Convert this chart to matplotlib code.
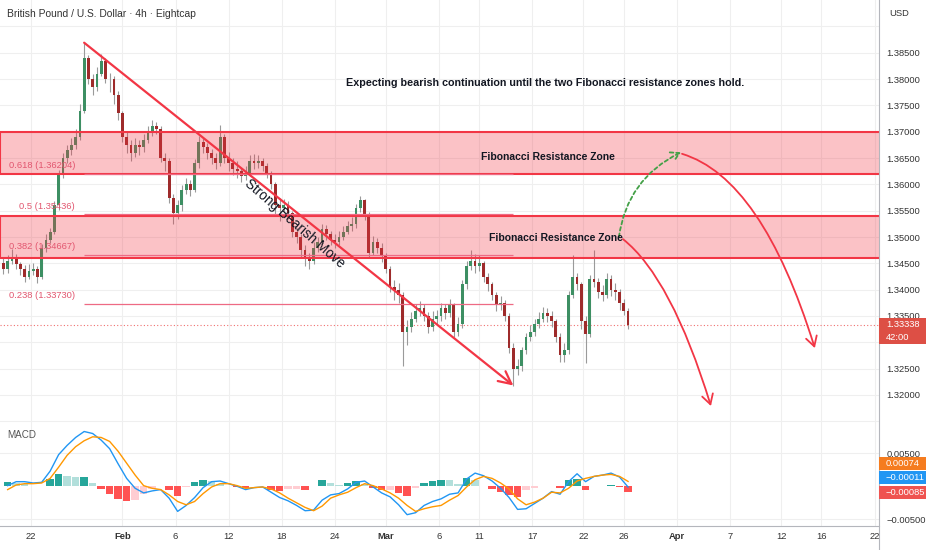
import matplotlib.pyplot as plt
import matplotlib.font_manager as fm
from matplotlib.patches import Rectangle, FancyArrowPatch
from matplotlib.path import Path
from matplotlib.lines import Line2D
import numpy as np
import pandas as pd

# pick a narrow font if there is one, the TradingView text is quite condensed
names = {f.name for f in fm.fontManager.ttflist}
main_font = 'Liberation Sans Narrow' if 'Liberation Sans Narrow' in names else 'Liberation Sans'
plt.rcParams['font.family'] = [main_font, 'DejaVu Sans']

# ---- data (8h candles, open = previous close) ----
open_first = 1.3450
close = [1.3440, 1.3455, 1.3462, 1.3448, 1.3440, 1.3425, 1.3435, 1.3440, 1.3425, 1.3480,
         1.3495, 1.3510, 1.3560, 1.3620, 1.3650, 1.3665, 1.3675, 1.3690, 1.3740, 1.3840,
         1.3800, 1.3785, 1.3810, 1.3835, 1.3800, 1.3800, 1.3770, 1.3735, 1.3690, 1.3675,
         1.3660, 1.3675, 1.3670, 1.3685, 1.3700, 1.3710, 1.3705, 1.3650, 1.3645, 1.3575,
         1.3545, 1.3560, 1.3590, 1.3600, 1.3590, 1.3640, 1.3680, 1.3670, 1.3660, 1.3650,
         1.3640, 1.3690, 1.3650, 1.3640, 1.3630, 1.3625, 1.3615, 1.3620, 1.3645, 1.3640,
         1.3645, 1.3635, 1.3620, 1.3600, 1.3560, 1.3555, 1.3560, 1.3545, 1.3510, 1.3500,
         1.3475, 1.3460, 1.3455, 1.3480, 1.3490, 1.3515, 1.3505, 1.3495, 1.3490, 1.3500,
         1.3510, 1.3520, 1.3525, 1.3555, 1.3570, 1.3540, 1.3470, 1.3490, 1.3480, 1.3465,
         1.3440, 1.3405, 1.3400, 1.3390, 1.3320, 1.3330, 1.3345, 1.3360, 1.3365, 1.3350,
         1.3330, 1.3345, 1.3350, 1.3365, 1.3355, 1.3370, 1.3320, 1.3335, 1.3410, 1.3445,
         1.3455, 1.3445, 1.3450, 1.3425, 1.3410, 1.3390, 1.3370, 1.3375, 1.3350, 1.3290,
         1.3250, 1.3255, 1.3285, 1.3310, 1.3320, 1.3335, 1.3345, 1.3355, 1.3350, 1.3340,
         1.3310, 1.3275, 1.3285, 1.3390, 1.3425, 1.3410, 1.3340, 1.3315, 1.3420, 1.3415,
         1.3395, 1.3390, 1.3420, 1.3400, 1.3395, 1.3375, 1.3360, 1.33338]
high = [1.3462, 1.3465, 1.3478, 1.3468, 1.3452, 1.3446, 1.3448, 1.3450, 1.3445, 1.3486,
        1.3505, 1.3518, 1.3568, 1.3628, 1.3660, 1.3675, 1.3688, 1.3705, 1.3752, 1.3869,
        1.3845, 1.3810, 1.3822, 1.3848, 1.3840, 1.3812, 1.3805, 1.3778, 1.3740, 1.3700,
        1.3685, 1.3688, 1.3685, 1.3695, 1.3710, 1.3722, 1.3718, 1.3710, 1.3660, 1.3650,
        1.3582, 1.3570, 1.3598, 1.3612, 1.3608, 1.3648, 1.3692, 1.3690, 1.3678, 1.3668,
        1.3660, 1.3712, 1.3695, 1.3662, 1.3650, 1.3645, 1.3632, 1.3635, 1.3655, 1.3658,
        1.3655, 1.3650, 1.3640, 1.3625, 1.3605, 1.3575, 1.3572, 1.3568, 1.3550, 1.3518,
        1.3505, 1.3485, 1.3470, 1.3490, 1.3500, 1.3525, 1.3522, 1.3512, 1.3505, 1.3512,
        1.3520, 1.3530, 1.3538, 1.3562, 1.3578, 1.3572, 1.3548, 1.3502, 1.3498, 1.3488,
        1.3470, 1.3445, 1.3418, 1.3412, 1.3395, 1.3342, 1.3358, 1.3372, 1.3378, 1.3372,
        1.3358, 1.3360, 1.3362, 1.3375, 1.3372, 1.3382, 1.3375, 1.3348, 1.3418, 1.3455,
        1.3475, 1.3468, 1.3465, 1.3455, 1.3432, 1.3415, 1.3395, 1.3388, 1.3380, 1.3355,
        1.3298, 1.3268, 1.3292, 1.3318, 1.3332, 1.3345, 1.3358, 1.3368, 1.3365, 1.3360,
        1.3345, 1.3318, 1.3298, 1.3398, 1.3465, 1.3432, 1.3415, 1.3350, 1.3428, 1.3475,
        1.3422, 1.3408, 1.3432, 1.3428, 1.3412, 1.3402, 1.3382, 1.3365]
low = [1.3430, 1.3432, 1.3448, 1.3440, 1.3428, 1.3415, 1.3420, 1.3428, 1.3412, 1.3420,
       1.3472, 1.3488, 1.3505, 1.3552, 1.3612, 1.3640, 1.3655, 1.3668, 1.3685, 1.3735,
       1.3790, 1.3770, 1.3778, 1.3805, 1.3792, 1.3775, 1.3752, 1.3722, 1.3680, 1.3660,
       1.3645, 1.3652, 1.3655, 1.3662, 1.3678, 1.3692, 1.3695, 1.3642, 1.3625, 1.3565,
       1.3525, 1.3535, 1.3550, 1.3582, 1.3578, 1.3585, 1.3632, 1.3660, 1.3648, 1.3638,
       1.3630, 1.3635, 1.3640, 1.3625, 1.3618, 1.3612, 1.3605, 1.3608, 1.3615, 1.3630,
       1.3632, 1.3625, 1.3612, 1.3592, 1.3540, 1.3530, 1.3545, 1.3535, 1.3500, 1.3488,
       1.3462, 1.3445, 1.3440, 1.3448, 1.3472, 1.3485, 1.3495, 1.3485, 1.3480, 1.3485,
       1.3495, 1.3505, 1.3512, 1.3518, 1.3548, 1.3532, 1.3462, 1.3465, 1.3470, 1.3452,
       1.3432, 1.3395, 1.3380, 1.3375, 1.3255, 1.3295, 1.3320, 1.3338, 1.3350, 1.3340,
       1.3318, 1.3322, 1.3335, 1.3340, 1.3345, 1.3348, 1.3310, 1.3312, 1.3328, 1.3402,
       1.3438, 1.3432, 1.3435, 1.3415, 1.3398, 1.3380, 1.3360, 1.3362, 1.3340, 1.3280,
       1.3218, 1.3238, 1.3245, 1.3278, 1.3302, 1.3312, 1.3328, 1.3338, 1.3338, 1.3330,
       1.3300, 1.3262, 1.3262, 1.3278, 1.3385, 1.3400, 1.3325, 1.3260, 1.3310, 1.3405,
       1.3385, 1.3378, 1.3385, 1.3388, 1.3380, 1.3362, 1.3352, 1.3325]
last_bar_time = '2026-03-26 08:00'

# MACD read every second candle
macd_line = [0.0001, 0.0007, 0.0007, 0.0005, 0.0006, 0.0023, 0.0048, 0.0062, 0.0074, 0.0083,
             0.0080, 0.0070, 0.0057, 0.0034, 0.0012, -0.0003, -0.0010, -0.0007, -0.0005, -0.0018,
             -0.0038, -0.0029, -0.0017, -0.0002, 0.0007, 0.0008, 0.0004, 0.0000, -0.0005, -0.0002,
             -0.0001, -0.0009, -0.0017, -0.0022, -0.0029, -0.0037, -0.0036, -0.0021, -0.0013, -0.0011,
             -0.0004, 0.0006, 0.0008, -0.0001, -0.0010, -0.0016, -0.0028, -0.0043, -0.0040, -0.0029,
             -0.0023, -0.0019, -0.0012, -0.0010, 0.0011, 0.0020, 0.0016, 0.0008, -0.0003, -0.0017,
             -0.0035, -0.0034, -0.0026, -0.0018, -0.0008, -0.0012, 0.0007, 0.0019, 0.0007, 0.0015,
             0.0017, 0.0020, 0.0014, -0.00011]
signal_line = [-0.0005, 0.0002, 0.0004, 0.0004, 0.0005, 0.0012, 0.0029, 0.0047, 0.0060, 0.0069,
               0.0075, 0.0074, 0.0068, 0.0053, 0.0035, 0.0017, 0.0001, -0.0003, -0.0005, -0.0013,
               -0.0023, -0.0028, -0.0023, -0.0011, -0.0001, 0.0004, 0.0004, 0.0001, -0.0003, -0.0002,
               -0.0001, -0.0004, -0.0010, -0.0018, -0.0025, -0.0032, -0.0037, -0.0030, -0.0018, -0.0013,
               -0.0009, -0.0002, 0.0004, 0.0001, -0.0004, -0.0010, -0.0018, -0.0029, -0.0038, -0.0034,
               -0.0031, -0.0029, -0.0021, -0.0014, -0.0001, 0.0010, 0.0015, 0.0012, 0.0005, -0.0004,
               -0.0019, -0.0028, -0.0024, -0.0018, -0.0009, -0.0010, -0.0003, 0.0008, 0.0012, 0.0015,
               0.0017, 0.0018, 0.0015, 0.00074]

fib_ratios = ['0.618', '0.5', '0.382', '0.238']
fib_prices = [1.36204, 1.35436, 1.34667, 1.33730]
zones = [(1.36204, 1.37000), (1.34600, 1.35400)]

tick_dates = ['2026-01-22', '2026-02-01', '2026-02-06', '2026-02-12', '2026-02-18', '2026-02-24',
              '2026-03-01', '2026-03-06', '2026-03-11', '2026-03-17', '2026-03-22', '2026-03-26',
              '2026-04-01', '2026-04-07', '2026-04-12', '2026-04-16', '2026-04-22']
tick_labels = ['22', 'Feb', '6', '12', '18', '24', 'Mar', '6', '11', '17', '22', '26',
               'Apr', '7', '12', '16', '22']
month_labels = ['Feb', 'Mar', 'Apr']

title = 'British Pound / U.S. Dollar · 4h · Eightcap'
note = 'Expecting bearish continuation until the two Fibonacci resistance zones hold.'

# ---- 4h forex bar calendar: weekdays + the sunday evening bar ----
t = pd.date_range('2026-01-12', '2026-04-30', freq='4h')
bars = t[(t.dayofweek < 5) | ((t.dayofweek == 6) & (t.hour == 20))]
origin = bars.get_loc(pd.Timestamp('2026-01-22 00:00'))


def bar_pos(ts):
    return bars.searchsorted(pd.Timestamp(ts)) - origin


close = np.array(close)
high = np.array(high)
low = np.array(low)
opn = np.r_[open_first, close[:-1]]
n = len(close)
cx = bar_pos(last_bar_time) - 2 * np.arange(n)[::-1]
macd_line = np.array(macd_line)
signal_line = np.array(signal_line)
mx = cx[1::2]
hist = macd_line - signal_line

W, H = 932, 550
fig = plt.figure(figsize=(W / 100, H / 100), dpi=100)
ax = fig.add_axes([0, 1 - 428 / H, 879 / W, 428 / H])
axm = fig.add_axes([0, 1 - 526 / H, 879 / W, 98 / H], sharex=ax)
renderer = fig.canvas.get_renderer()


def size_for(s, width_px, weight='normal'):
    tt = fig.text(0, 0, s, fontsize=10, fontweight=weight)
    w = tt.get_window_extent(renderer).width
    tt.remove()
    return 10 * width_px / w


small = size_for('1.38500', 34)
fib_size = size_for('0.618 (1.36204)', 66)

grid_c = '#efefef'
border_c = '#b4b6bc'
red = '#f23645'

# ---- candles ----
green_c, red_c, wick_c = '#3d8f63', '#9e2b2b', '#9a9a9a'
up = close >= opn
hi = np.maximum(high, np.maximum(opn, close))
lo = np.minimum(low, np.minimum(opn, close))
ax.vlines(cx, lo, hi, color=wick_c, lw=0.8, zorder=2)
ax.bar(cx, np.maximum(np.abs(close - opn), 0.00004), width=1.3, bottom=np.minimum(opn, close),
       color=np.where(up, green_c, red_c), linewidth=0, zorder=3)

ax.set_xlim(-14.6, 399.1)
ax.set_ylim(1.31373, 1.39501)

# current price dotted line
ax.axhline(close[-1], color='#f07070', lw=0.8, ls=(0, (1, 2)), zorder=2)

# ---- fibonacci zones ----
for z_lo, z_hi in zones:
    ax.add_patch(Rectangle((-14.5, z_lo), 500, z_hi - z_lo, facecolor=(0.949, 0.212, 0.271, 0.30),
                           edgecolor=red, lw=1.5, zorder=4))

i_top = int(np.argmax(hi))
i_bot = int(np.argmin(lo))
ax.hlines(fib_prices, cx[i_top], cx[i_bot], color='#ee6a84', lw=0.9, zorder=4)
for r, p in zip(fib_ratios, fib_prices):
    ax.annotate(f'{r} ({p:.5f})', xy=(cx[i_top], p), xytext=(-6.5, 2.5), textcoords='offset points',
                ha='right', va='bottom', color='#e2566f', fontsize=fib_size, zorder=6)

# trend line with arrow
ax.add_patch(FancyArrowPatch((cx[i_top], hi[i_top]), (cx[i_bot], lo[i_bot]),
                             arrowstyle='->,head_length=0.9,head_width=0.45', mutation_scale=10,
                             color=red, lw=1.6, shrinkA=0, shrinkB=0, zorder=5))
ax.text(124.0, 1.3526, 'Strong Bearish Move', color='#131722', ha='center', va='center',
        fontsize=size_for('Strong Bearish Move', 128), rotation=-41, rotation_mode='anchor', zorder=6)

# notes
ax.text(242.1, 1.37925, note, ha='center', va='center', color='#131722', fontweight='bold',
        fontsize=size_for(note, 397, 'bold'), zorder=6)
zsize = size_for('Fibonacci Resistance Zone', 134, 'bold')
ax.text(243.3, 1.3652, 'Fibonacci Resistance Zone', ha='center', va='center', color='#131722',
        fontweight='bold', fontsize=zsize, zorder=6)
ax.text(247.1, 1.3498, 'Fibonacci Resistance Zone', ha='center', va='center', color='#131722',
        fontweight='bold', fontsize=zsize, zorder=6)

# projection arrows (quadratic curves)
curve = [Path.MOVETO, Path.CURVE3, Path.CURVE3]
ax.add_patch(FancyArrowPatch(path=Path([(276.7, 1.3500), (280.5, 1.3610), (305.9, 1.3661)], curve),
                             arrowstyle='->,head_length=0.6,head_width=0.35', mutation_scale=10,
                             color='#43a047', lw=1.3, ls=(0, (2, 1.6)), zorder=5))
ax.add_patch(FancyArrowPatch(path=Path([(278.6, 1.3496), (301.4, 1.3423), (320.0, 1.3179)], curve),
                             arrowstyle='->,head_length=0.7,head_width=0.4', mutation_scale=10,
                             color=red, lw=1.3, zorder=5))
ax.add_patch(FancyArrowPatch(path=Path([(306.4, 1.3658), (344.0, 1.3612), (368.9, 1.3289)], curve),
                             arrowstyle='->,head_length=0.7,head_width=0.4', mutation_scale=10,
                             color=red, lw=1.3, zorder=5))

# ---- MACD pane ----
prev = np.r_[hist[0], hist[:-1]]
hcol = np.where(hist >= 0, np.where(hist >= prev, '#26a69a', '#b2dfdb'),
                np.where(hist < prev, '#ff5252', '#ffcdd2'))
axm.bar(mx, hist, width=3.6, color=hcol, linewidth=0, zorder=2)
axm.plot(mx, macd_line, color='#2196f3', lw=1.0, zorder=3)
axm.plot(mx, signal_line, color='#ff9800', lw=1.0, zorder=3)
axm.set_ylim(-0.006015, 0.008833)

# ---- axes styling ----
ticks = [bar_pos(d) for d in tick_dates]
axm.set_xticks(ticks)
axm.set_xticklabels(tick_labels)
for lab in axm.get_xticklabels():
    if lab.get_text() in month_labels:
        lab.set_fontweight('bold')
axm.tick_params(axis='x', length=0, pad=4.5, labelsize=small, colors='#333333')

# 1.330 sits under the price tag, 1.315 and 1.390 are cut off in the original
pticks = np.round(np.arange(1.315, 1.3901, 0.005), 3)
ax.set_yticks(pticks)
ax.set_yticklabels(['' if v in (1.315, 1.33, 1.39) else f'{v:.5f}' for v in pticks])
ax.yaxis.tick_right()
ax.tick_params(axis='y', length=0, pad=5.5, labelsize=small, colors='#333333')
ax.tick_params(axis='x', length=0, labelbottom=False)

axm.set_yticks([-0.005, 0.005])
axm.set_yticklabels(['\u22120.00500', '0.00500'])
axm.yaxis.tick_right()
axm.tick_params(axis='y', length=0, pad=5.5, labelsize=small, colors='#333333')

for a in (ax, axm):
    a.grid(True, color=grid_c, lw=0.8, zorder=0)
    a.set_axisbelow(True)
    for s in a.spines.values():
        s.set_visible(False)
axm.spines['bottom'].set_visible(True)
axm.spines['bottom'].set_color(border_c)
fig.add_artist(Line2D([879 / W, 879 / W], [0, 1], transform=fig.transFigure, color=border_c, lw=0.8))

# ---- header and labels ----
fig.text(7 / W, 1 - 14 / H, title, color='#333333', va='center', fontsize=size_for(title, 190))
fig.text(889 / W, 1 - 14 / H, 'USD', color='#333333', va='center', fontsize=small)
fig.text(7 / W, 1 - 435 / H, 'MACD', color='#555555', va='center', fontsize=small * 1.05)


def tag(y0, y1, color, lines):
    fig.patches.append(Rectangle((879 / W, 1 - y1 / H), 47 / W, (y1 - y0) / H, transform=fig.transFigure,
                                 facecolor=color, edgecolor='none', zorder=10))
    step = (y1 - y0) / len(lines)
    for k, s in enumerate(lines):
        fig.text(886 / W, 1 - (y0 + step * (k + 0.5)) / H, s, color='white', va='center',
                 fontsize=small, zorder=11)


tag(318, 344, '#dd4f45', [f'{close[-1]:.5f}', '42:00'])
tag(457, 470, '#f57c1f', [f'{signal_line[-1]:.5f}'])
tag(471, 484, '#2196f3', [f'{macd_line[-1]:.5f}'.replace('-', '\u2212')])
tag(485.5, 499, '#ef5350', [f'{hist[-1]:.5f}'.replace('-', '\u2212')])

fig.savefig('out.png', dpi=100)
